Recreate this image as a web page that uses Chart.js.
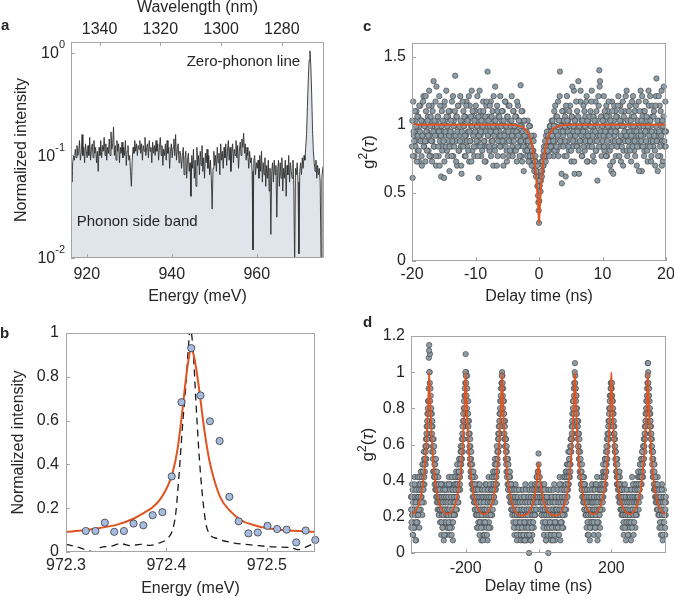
<!DOCTYPE html>
<html>
<head>
<meta charset="utf-8">
<script src="https://cdn.jsdelivr.net/npm/chart.js@4.4.0/dist/chart.umd.min.js"></script>
<style>
html, body { margin: 0; padding: 0; background: #fff; width: 674px; height: 599px; overflow: hidden; }
canvas { position: absolute; left: 0; top: 0; }
</style>
</head>
<body>
<canvas id="panelA" width="700" height="620"></canvas>
<canvas id="panelB" width="700" height="620"></canvas>
<canvas id="panelC" width="700" height="620"></canvas>
<canvas id="panelD" width="700" height="620"></canvas>
<script>
// ---------- panel a : PL spectrum, log scale ----------
var specE0 = 916.3, specStep = 0.2;   // energy grid of the spectrometer (meV)
var specIntensity = [
  0.07,0.055,0.085,0.1,0.09,0.115,0.095,0.125,0.1,0.11,
  0.14,0.09,0.105,0.16,0.1,0.12,0.085,0.13,0.11,0.095,
  0.125,0.1,0.15,0.09,0.115,0.13,0.095,0.14,0.105,0.12,
  0.085,0.11,0.07,0.12,0.1,0.14,0.095,0.125,0.11,0.15,
  0.1,0.13,0.09,0.12,0.105,0.145,0.1,0.17,0.115,0.13,
  0.19,0.1,0.125,0.09,0.14,0.11,0.13,0.085,0.12,0.105,
  0.135,0.095,0.12,0.1,0.14,0.08,0.11,0.125,0.09,0.1,
  0.07,0.05,0.09,0.12,0.105,0.14,0.11,0.13,0.1,0.125,
  0.115,0.14,0.105,0.13,0.09,0.125,0.11,0.15,0.1,0.12,
  0.13,0.095,0.14,0.11,0.12,0.085,0.135,0.105,0.125,0.1,
  0.14,0.11,0.13,0.09,0.12,0.15,0.1,0.125,0.08,0.115,
  0.1,0.13,0.09,0.14,0.105,0.12,0.075,0.11,0.13,0.095,
  0.12,0.145,0.1,0.16,0.09,0.115,0.13,0.085,0.11,0.1,
  0.075,0.1,0.12,0.065,0.095,0.11,0.06,0.09,0.105,0.07,
  0.085,0.04,0.1,0.075,0.115,0.06,0.09,0.05,0.12,0.08,
  0.1,0.065,0.11,0.08,0.125,0.07,0.095,0.06,0.105,0.085,
  0.115,0.075,0.1,0.065,0.09,0.06,0.03,0.075,0.11,0.08,
  0.1,0.07,0.12,0.085,0.105,0.065,0.13,0.09,0.11,0.075,
  0.12,0.095,0.13,0.08,0.11,0.14,0.09,0.12,0.07,0.105,
  0.13,0.085,0.115,0.1,0.14,0.095,0.125,0.075,0.11,0.135,
  0.1,0.145,0.12,0.165,0.105,0.13,0.09,0.12,0.1,0.075,
  0.11,0.085,0.095,0.07,0.012,0.09,0.1,0.065,0.085,0.075,
  0.09,0.06,0.1,0.07,0.11,0.055,0.085,0.065,0.095,0.05,
  0.08,0.06,0.09,0.045,0.075,0.017,0.07,0.085,0.055,0.09,
  0.065,0.08,0.025,0.07,0.09,0.05,0.085,0.06,0.095,0.045,
  0.075,0.06,0.09,0.04,0.08,0.065,0.1,0.055,0.085,0.07,
  0.06,0.09,0.05,0.008,0.075,0.065,0.085,0.055,0.011,0.07,
  0.085,0.065,0.095,0.075,0.1,0.09,0.12,0.16,0.3,0.55,
  0.85,1.05,0.75,0.4,0.18,0.11,0.085,0.07,0.09,0.06,
  0.08,0.065,0.075,0.055,0.01,0.06,0.075,0.08
];
var aEnergyTicks = [920, 940, 960];
var aWavelengthTicks = [1340, 1320, 1300, 1280];
var aIntensityTicks = [0.01, 0.1, 1];

// ---------- panel b : zero-phonon line, high resolution ----------
var bEnergy = [972.3197,972.3293,972.3387,972.348,972.3577,972.3673,972.377,972.3863,972.396,972.4053,
  972.415,972.4247,972.434,972.4433,972.453,972.4627,972.472,972.4817,972.491,972.5007,
  972.5103,972.5197,972.5293,972.5387,972.5483];
var bIntensity = [0.096,0.096,0.134,0.092,0.096,0.13,0.122,0.168,0.182,0.345,
  0.684,0.931,0.715,0.597,0.507,0.252,0.14,0.085,0.089,0.119,
  0.105,0.102,0.044,0.098,0.055];
var bFitEnergy = [972.3,972.3177,972.3343,972.351,972.3677,972.3777,972.386,972.3943,972.401,972.406,
  972.411,972.416,972.4193,972.422,972.4243,972.4267,972.4293,972.4327,972.436,972.4393,
  972.4427,972.4477,972.4543,972.4627,972.4743,972.4877,972.501,972.5177,972.5493];
var bFitIntensity = [0.092,0.099,0.11,0.125,0.153,0.179,0.203,0.244,0.298,0.359,
  0.466,0.649,0.786,0.878,0.924,0.908,0.847,0.74,0.618,0.511,
  0.42,0.328,0.244,0.191,0.145,0.122,0.108,0.099,0.092];
var bRefEnergy = [972.3,972.311,972.321,972.3277,972.3343,972.3443,972.3543,972.3643,972.3743,972.3843,
  972.3927,972.401,972.406,972.4093,972.4127,972.416,972.4193,972.422,972.4237,972.425,
  972.427,972.4293,972.4327,972.436,972.4393,972.4427,972.451,972.4677,972.4877,972.5077,
  972.5243,972.531,972.5393,972.5493];
var bRefIntensity = [0.035,0.023,0.008,0,0.02,0.026,0.038,0.029,0.035,0.03,
  0.041,0.061,0.099,0.176,0.359,0.573,0.756,0.939,1.02,1.0,
  0.893,0.695,0.435,0.252,0.13,0.084,0.061,0.041,0.031,0.023,
  0.02,0.011,0.023,0.046];
var bEnergyTicks = [972.3, 972.4, 972.5];
var bIntensityTicks = [0, 0.2, 0.4, 0.6, 0.8, 1];

// ---------- panel c : g2 under CW excitation ----------
var cT0 = -20, cStep = 0.1;   // ns, correlation bins (cG2Half sits half a bin later)
var cG2 = [
  0.84,0.61,1.17,0.92,0.77,1.03,0.88,1.1,0.95,0.81,1.06,0.73,0.99,1.14,0.88,0.77,1.03,0.92,1.21,0.84,
  0.99,0.73,1.1,0.88,0.95,1.06,0.81,1.25,0.92,1.03,0.77,1.14,0.88,0.99,1.32,0.84,0.95,1.17,0.7,1.03,
  0.92,1.06,0.77,1.21,0.88,0.99,0.62,1.1,0.84,0.95,1.14,0.73,1.03,0.92,1.25,0.81,0.99,1.06,0.88,0.66,
  1.1,0.95,0.84,1.17,0.92,0.77,1.03,0.99,1.36,0.88,1.06,0.7,0.95,1.14,0.81,0.92,1.21,0.84,0.64,1.03,
  0.88,1.1,0.99,0.77,1.06,0.92,1.17,0.84,0.95,1.03,0.73,1.14,0.88,0.99,1.25,0.81,1.06,0.92,0.77,1.1,
  0.95,0.84,1.03,1.21,0.88,0.61,0.99,1.1,0.92,0.77,1.06,0.84,1.17,0.95,0.88,1.03,0.73,1.14,0.99,1.39,
  0.92,1.06,0.81,0.99,1.17,0.88,0.95,1.1,0.7,1.03,0.84,1.28,0.92,0.99,1.14,0.77,1.06,0.88,0.95,1.21,
  0.84,1.03,0.92,1.1,0.7,0.99,0.88,1.17,0.95,0.81,1.06,0.92,1.14,0.77,1.03,0.88,0.99,1.21,0.84,0.95,
  1.1,0.81,0.99,0.92,1.06,0.73,0.95,1.14,0.84,1.03,0.88,1.29,0.77,0.99,1.1,0.92,0.66,1.03,0.84,0.95,
  0.88,0.77,1.03,0.81,0.92,0.73,0.99,0.84,0.77,0.88,0.7,0.81,0.92,0.77,0.66,0.73,0.62,0.7,0.55,0.43,
  0.28,0.55,0.64,0.59,0.73,0.66,0.77,0.7,0.84,0.73,0.81,0.92,0.77,0.88,0.84,0.95,0.81,0.99,0.88,0.92,
  1.03,0.84,0.95,0.77,1.1,0.88,0.99,1.06,0.81,0.92,1.17,0.95,0.84,1.39,1.03,0.88,0.57,0.99,0.92,1.1,
  0.77,1.06,0.62,0.95,1.21,0.88,1.03,0.81,0.99,1.14,0.92,0.73,1.06,0.84,0.95,1.25,0.64,1.03,0.88,0.99,
  1.1,0.84,1.32,0.64,0.95,1.17,0.88,1.03,0.77,0.99,1.14,0.92,0.81,1.06,0.95,1.21,0.88,0.73,1.03,0.99,
  0.92,1.1,0.84,1.25,0.95,0.77,1.06,0.99,0.88,1.17,0.81,1.03,0.59,0.92,1.14,1.4,1.32,0.95,0.84,1.06,
  0.88,0.99,1.21,0.81,1.03,0.92,1.14,0.77,0.95,1.1,0.84,1.06,0.7,0.99,0.66,1.17,0.88,0.64,1.03,0.92,
  1.1,0.77,0.95,1.06,0.84,1.21,0.99,0.88,1.14,0.73,1.03,0.92,1.17,0.81,0.99,1.1,0.88,0.95,1.25,0.77,
  1.03,0.92,0.84,1.14,0.99,0.73,1.06,0.88,1.21,0.95,0.81,1.1,0.92,0.99,0.7,1.03,0.88,1.17,0.84,0.95,
  1.25,0.88,0.66,1.06,0.92,1.1,0.81,0.99,1.17,0.84,1.03,0.73,0.95,1.14,0.88,1.21,0.99,0.77,1.06,0.92,
  0.84,1.1,0.95,0.7,1.21,1.34,0.88,0.66,1.03,0.92,1.14,0.77,0.99,1.25,0.88,0.73,1.06,0.95,0.84,1.17,
  0.95
];
var cG2Half = [
  1.03,0.77,0.95,0.88,1.1,0.84,0.99,0.73,1.06,0.92,0.81,1.14,0.95,0.88,1.03,0.7,0.92,1.17,0.84,0.99,
  0.88,1.21,0.95,0.81,1.03,0.92,1.14,0.77,0.99,1.06,0.88,0.73,1.1,0.95,0.84,1.03,0.92,0.77,1.28,0.99,
  1.06,0.84,0.95,0.7,1.14,0.92,0.99,0.81,1.03,0.88,0.61,1.17,0.95,0.84,1.06,0.99,0.77,1.1,0.92,0.84,
  0.95,1.03,0.77,0.88,1.21,0.99,0.84,1.1,0.92,0.73,1.06,0.95,1.14,0.81,0.99,0.88,1.03,0.7,0.95,1.17,
  0.84,0.99,1.06,0.92,0.77,1.14,0.88,1.03,0.81,1.21,0.95,0.88,1.06,0.73,0.99,1.1,0.92,0.84,1.03,0.95,
  1.14,0.88,0.99,0.77,1.06,0.92,1.25,0.84,0.95,1.03,0.81,0.99,1.1,0.88,0.73,1.06,0.95,1.17,0.84,0.92,
  1.03,0.84,1.14,0.95,0.77,1.06,0.88,0.99,1.21,0.92,0.81,1.03,0.95,0.7,1.1,0.88,0.99,1.06,0.84,0.92,
  0.99,1.1,0.88,0.77,1.03,0.92,1.17,0.84,0.99,0.73,1.06,0.95,0.88,1.14,0.81,0.99,1.03,0.92,0.77,1.1,
  0.88,0.99,1.06,0.81,0.95,1.17,0.84,0.92,1.03,0.77,0.99,0.88,1.1,0.73,0.95,0.84,1.03,0.92,0.81,0.88,
  0.95,0.81,0.88,0.73,0.99,0.77,0.84,0.92,0.7,0.81,0.77,0.88,0.66,0.73,0.77,0.62,0.66,0.55,0.48,0.37,
  0.44,0.59,0.51,0.66,0.62,0.73,0.7,0.81,0.77,0.88,0.73,0.84,0.95,0.81,0.92,0.88,0.77,0.99,0.84,0.95,
  0.92,1.03,0.88,0.99,0.81,1.14,0.95,0.84,1.06,0.92,0.77,1.03,1.21,0.88,0.99,0.64,1.1,0.95,0.84,1.03,
  0.99,0.88,1.14,0.77,1.03,0.95,0.84,1.1,0.92,0.99,0.81,1.06,1.28,0.88,0.99,0.73,1.03,0.92,1.17,0.84,
  0.95,1.06,0.81,0.99,0.88,1.25,0.92,0.77,1.03,0.95,0.84,1.1,0.99,0.88,1.17,0.73,1.03,0.92,0.84,1.06,
  0.88,0.99,1.17,0.84,0.92,1.06,0.73,1.03,0.95,0.81,1.1,0.88,0.99,1.21,0.84,1.28,0.92,1.06,0.77,0.99,
  1.03,0.92,0.84,1.1,0.95,0.77,1.06,0.88,0.99,1.17,0.92,0.81,1.03,0.95,0.84,1.1,0.73,0.99,1.14,0.88,
  0.95,1.06,0.84,0.99,1.14,0.88,0.77,1.03,0.92,1.1,0.84,0.99,0.7,1.06,0.95,0.88,1.21,0.92,0.81,1.03,
  0.88,1.1,0.95,0.81,1.03,0.92,1.17,0.84,0.99,1.06,0.88,0.77,1.14,0.95,0.84,1.03,0.92,0.66,1.1,0.99,
  0.92,1.03,1.21,0.84,0.99,0.77,1.1,0.95,0.88,1.06,0.81,0.99,1.25,0.92,0.84,1.03,0.73,0.95,1.14,0.88,
  1.06,0.92,0.81,1.14,0.99,0.88,1.03,0.77,1.21,0.95,0.84,1.1,0.92,0.7,1.03,0.99,1.28,0.88,0.95,0.84
];
var cFitT = [-20,-5,-3,-2.5,-2,-1.6,-1.3,-1,-0.8,-0.6,-0.45,-0.3,-0.2,-0.1,-0.05,0,
  0.05,0.1,0.2,0.3,0.45,0.6,0.8,1,1.3,1.6,2,2.5,3,5,20];
var cFitG2 = [1,1,0.99,0.98,0.959,0.927,0.888,0.827,0.77,0.694,0.621,0.531,0.459,0.376,0.33,0.28,
  0.33,0.376,0.459,0.531,0.621,0.694,0.77,0.827,0.888,0.927,0.959,0.98,0.99,1,1];
var cTimeTicks = [-20, -10, 0, 10, 20];
var cG2Ticks = [0, 0.5, 1, 1.5];

// ---------- panel d : g2 under pulsed excitation ----------
var dT0 = -350, dStep = 1;   // ns (dG2Half sits half a bin later)
var dG2 = [
  // -350 .. -251  (peak at -300)
  .31,.14,.24,.38,.21,.1,.28,.35,.17,.24,.42,.14,.28,.21,.07,.31,.24,.35,.17,.28,
  .21,.38,.31,.14,.42,.28,.35,.24,.45,.31,.38,.21,.49,.35,.42,.28,.52,.38,.45,.56,
  .49,.63,.52,.7,.59,.77,.66,.84,.84,1.08,1.15,1.0,1.1,.8,.87,.73,.63,.77,.56,.7,
  .59,.45,.63,.42,.52,.38,.49,.35,.45,.31,.42,.28,.38,.24,.35,.42,.21,.31,.28,.38,
  .17,.31,.24,.1,.35,.21,.28,.14,.38,.24,.07,.31,.17,.28,.21,.35,.1,.24,.31,.14,
  // -250 .. -151  (peak at -200)
  .24,.35,.14,.28,.42,.21,.1,.31,.17,.38,.24,.28,.14,.35,.21,.07,.31,.24,.42,.28,
  .35,.21,.38,.28,.45,.31,.24,.42,.35,.49,.28,.45,.38,.52,.42,.35,.56,.45,.49,.59,
  .52,.66,.56,.73,.63,.8,.7,.87,.77,.94,1.1,1.0,.91,.84,.98,.77,.7,.84,.63,.73,
  .56,.66,.49,.59,.42,.52,.45,.38,.49,.35,.42,.31,.38,.28,.35,.24,.42,.31,.21,.35,
  .28,.14,.31,.24,.38,.17,.28,.21,.1,.31,.24,.35,.17,.07,.28,.21,.31,.14,.24,.1,
  // -150 .. -51  (peak at -100)
  .21,.31,.1,.24,.38,.17,.28,.14,.35,.21,.07,.28,.24,.42,.17,.31,.21,.35,.14,.28,
  .24,.38,.31,.21,.42,.28,.35,.45,.31,.38,.49,.28,.42,.35,.52,.45,.38,.56,.49,.63,
  .56,.7,.59,.77,.66,.84,.73,.91,.8,.94,1.0,.98,.87,.91,.77,.84,.7,.63,.73,.59,
  .52,.63,.45,.56,.49,.38,.52,.42,.35,.45,.31,.38,.42,.28,.35,.24,.31,.38,.21,.28,
  .35,.17,.24,.31,.1,.28,.21,.38,.14,.24,.31,.07,.21,.28,.17,.35,.1,.24,.14,.21,
  // -50 .. 49  (suppressed peak at 0)
  .14,.28,.07,.21,.35,.1,.24,.17,.31,.07,.21,.14,.28,.1,.38,.17,.24,.07,.31,.21,
  .1,.28,.17,.35,0,.24,.14,.31,.21,.07,.38,.17,.28,.1,.24,.35,.21,.14,.31,.28,
  .35,.21,.38,.28,.24,.42,.31,.35,.45,.38,.55,.42,.31,.38,.28,.35,.24,.31,.38,.21,
  .28,.35,.17,.31,.24,.1,.38,.21,.28,.14,.31,.07,.24,.35,.17,.28,.21,0,.14,.31,
  .21,.1,.28,.17,.35,.07,.24,.14,.31,.21,.1,.28,.17,.38,.24,.07,.31,.14,.21,.28,
  // 50 .. 149  (peak at 100)
  .17,.31,.24,.1,.35,.21,.28,.14,.42,.24,.07,.31,.21,.38,.17,.28,.24,.35,.14,.31,
  .28,.42,.21,.35,.31,.45,.24,.38,.49,.31,.42,.35,.56,.38,.45,.52,.42,.59,.49,.63,
  .56,.7,.63,.77,.66,.84,.73,.91,.8,.94,1.05,.98,.91,.84,.87,.77,.8,.7,.63,.73,
  .59,.66,.52,.45,.56,.42,.49,.38,.45,.35,.42,.31,.38,.28,.35,.42,.24,.31,.38,.21,
  .28,.35,.14,.24,.31,.1,.28,.21,.35,.17,.24,.07,.31,.21,.28,.14,.24,.38,.17,.28,
  // 150 .. 249  (peak at 200)
  .21,.35,.1,.28,.17,.31,.24,.38,.14,.28,.21,.42,.07,.24,.31,.17,.35,.21,.28,.14,
  .31,.24,.38,.28,.42,.35,.24,.45,.31,.38,.49,.35,.42,.52,.38,.56,.45,.49,.63,.52,
  .59,.66,.73,.63,.8,.7,.87,.77,.91,.84,.94,.91,.87,.8,.84,.73,.77,.66,.7,.59,
  .63,.52,.56,.45,.49,.38,.52,.42,.35,.45,.31,.38,.28,.42,.35,.24,.31,.38,.21,.28,
  .35,.14,.28,.21,.1,.31,.24,.38,.17,.28,.07,.21,.31,.14,.24,.35,.17,.28,.1,.21,
  // 250 .. 350  (peak at 300)
  .28,.14,.35,.21,.07,.31,.24,.42,.17,.28,.35,.1,.24,.38,.21,.31,.14,.28,.24,.35,
  .21,.38,.28,.42,.31,.24,.45,.35,.38,.49,.31,.42,.52,.38,.45,.56,.49,.42,.59,.52,
  .63,.56,.7,.66,.77,.73,.84,.8,.91,.94,1.05,1.0,.91,.87,.8,.84,.73,.77,.66,.7,
  .59,.63,.49,.56,.42,.52,.45,.35,.49,.38,.31,.42,.28,.38,.35,.24,.31,.42,.28,.21,
  .31,.24,.14,.35,.21,.28,.1,.31,.24,.38,.17,.07,.28,.21,.35,.14,.24,.31,.1,.21,.28
];
var dG2Half = [
  // -349.5 .. -250.5
  .24,.17,.31,.21,.35,.1,.28,.14,.24,.38,.21,.31,.07,.28,.35,.17,.24,.31,.42,.21,
  .31,.24,.35,.42,.28,.38,.31,.45,.35,.28,.42,.49,.38,.45,.35,.56,.42,.49,.52,.59,
  .56,.59,.66,.63,.73,.7,.8,.77,.91,1.12,1.0,.94,.84,.91,.77,.8,.7,.66,.73,.63,
  .52,.56,.45,.59,.49,.42,.45,.35,.52,.38,.35,.45,.31,.35,.28,.38,.31,.24,.35,.28,
  .24,.28,.38,.17,.31,.24,.14,.28,.35,.21,.31,.1,.24,.35,.28,.17,.31,.21,.38,.24,
  // -249.5 .. -150.5
  .28,.21,.31,.17,.38,.24,.14,.35,.28,.21,.31,.1,.42,.24,.35,.17,.28,.21,.31,.38,
  .28,.42,.35,.24,.38,.31,.49,.38,.28,.42,.35,.45,.52,.42,.38,.49,.59,.52,.56,.63,
  .59,.7,.63,.77,.73,.84,.8,.91,.87,1.0,.98,.94,.87,.8,.91,.73,.77,.7,.66,.56,
  .59,.52,.63,.45,.49,.56,.38,.45,.42,.31,.38,.45,.35,.31,.28,.38,.24,.35,.31,.28,
  .21,.31,.24,.35,.14,.28,.21,.31,.38,.17,.24,.28,.14,.31,.21,.35,.24,.07,.31,.17,
  // -149.5 .. -50.5
  .28,.24,.35,.17,.31,.21,.38,.24,.1,.31,.28,.35,.21,.14,.31,.24,.38,.28,.21,.35,
  .31,.28,.42,.35,.24,.45,.38,.31,.42,.35,.52,.45,.38,.49,.42,.59,.45,.52,.56,.66,
  .63,.66,.73,.7,.8,.77,.87,.84,.94,.98,.91,.94,.8,.84,.73,.77,.66,.7,.59,.63,
  .56,.49,.59,.42,.52,.45,.35,.49,.38,.42,.31,.45,.35,.28,.38,.31,.24,.35,.28,.31,
  .24,.28,.14,.35,.21,.31,.24,.17,.28,.35,.21,.1,.31,.24,.28,.14,.35,.21,.28,.17,
  // -49.5 .. 49.5
  .21,.1,.31,.24,.14,.28,.21,.35,.1,.24,.31,.17,.07,.28,.21,.35,.14,.24,.1,.28,
  .21,.14,.31,.24,.1,.35,.28,.17,.07,.31,.24,.14,.35,.21,.28,.17,.31,.24,.35,.21,
  .28,.38,.31,.24,.35,.42,.28,.38,.31,.45,.49,.38,.35,.42,.31,.24,.35,.28,.21,.31,
  .35,.24,.28,.14,.31,.21,.35,.24,.17,.28,.07,.21,.31,.14,.24,.1,.28,.35,.21,.14,
  .28,.17,.24,.35,.1,.21,.31,.14,.28,.07,.24,.35,.21,.1,.28,.17,.31,.24,.14,.21,
  // 50.5 .. 149.5
  .24,.21,.35,.14,.28,.31,.1,.24,.38,.21,.28,.17,.35,.24,.31,.14,.21,.28,.42,.24,
  .35,.31,.24,.42,.38,.28,.45,.35,.42,.31,.49,.38,.45,.42,.52,.49,.56,.45,.63,.59,
  .63,.66,.73,.7,.8,.84,.77,.87,.94,1.0,.94,.91,.8,.87,.77,.73,.66,.7,.59,.66,
  .56,.52,.63,.49,.42,.52,.38,.45,.35,.49,.31,.38,.42,.28,.31,.38,.24,.35,.28,.31,
  .21,.31,.24,.35,.17,.28,.21,.1,.31,.24,.35,.14,.28,.21,.31,.17,.28,.35,.21,.24,
  // 150.5 .. 249.5
  .28,.17,.31,.24,.35,.14,.28,.21,.38,.24,.31,.17,.28,.35,.1,.24,.31,.21,.35,.24,
  .38,.28,.35,.42,.31,.38,.28,.49,.35,.42,.38,.45,.52,.42,.49,.45,.59,.52,.56,.66,
  .63,.7,.66,.77,.73,.84,.8,.87,.94,.91,.87,.94,.84,.77,.8,.7,.73,.63,.66,.56,
  .59,.56,.49,.52,.42,.45,.49,.38,.42,.31,.38,.35,.45,.31,.28,.35,.24,.31,.35,.24,
  .28,.21,.31,.17,.24,.35,.14,.28,.21,.31,.24,.17,.35,.28,.21,.1,.24,.31,.17,.28,
  // 250.5 .. 349.5
  .21,.31,.24,.17,.35,.28,.14,.31,.24,.38,.21,.28,.17,.31,.35,.24,.28,.21,.38,.31,
  .28,.35,.31,.45,.38,.28,.42,.35,.49,.42,.38,.45,.52,.42,.56,.49,.45,.59,.52,.63,
  .59,.66,.63,.73,.7,.8,.77,.87,.84,.98,1.05,.94,.87,.91,.77,.8,.7,.73,.63,.66,
  .56,.59,.52,.45,.56,.42,.38,.49,.45,.35,.42,.38,.31,.35,.28,.31,.38,.24,.31,.28,
  .35,.21,.28,.17,.31,.24,.28,.14,.35,.21,.1,.28,.24,.31,.17,.21,.28,.14,.24,.31
];
var dFitT = [
  -350,-340,-330,-323,-317,-312,-308,-305,-302,-300,-298,-295,-292,-288,-283,-277,-270,-260,
  -250,-240,-230,-223,-217,-212,-208,-205,-202,-200,-198,-195,-192,-188,-183,-177,-170,-160,
  -150,-140,-130,-123,-117,-112,-108,-105,-102,-100,-98,-95,-92,-88,-83,-77,-70,-60,
  -50,-40,-30,-23,-17,-12,-8,-5,-2,0,2,5,8,12,17,23,30,40,
  50,60,70,77,83,88,92,95,98,100,102,105,108,112,117,123,130,140,
  150,160,170,177,183,188,192,195,198,200,202,205,208,212,217,223,230,240,
  250,260,270,277,283,288,292,295,298,300,302,305,308,312,317,323,330,340,
  350
];
var dFitG2 = [
  .215,.225,.26,.31,.385,.485,.6,.72,.87,1,.87,.72,.6,.485,.385,.31,.26,.225,
  .215,.225,.26,.31,.385,.485,.6,.72,.87,1,.87,.72,.6,.485,.385,.31,.26,.225,
  .215,.225,.26,.31,.385,.485,.6,.72,.87,1,.87,.72,.6,.485,.385,.31,.26,.22,
  .207,.21,.217,.236,.265,.304,.349,.394,.452,.5,.452,.394,.349,.304,.265,.236,.217,.21,
  .207,.22,.26,.31,.385,.485,.6,.72,.87,1,.87,.72,.6,.485,.385,.31,.26,.225,
  .215,.225,.26,.31,.385,.485,.6,.72,.87,1,.87,.72,.6,.485,.385,.31,.26,.225,
  .215,.225,.26,.31,.385,.485,.6,.72,.87,1,.87,.72,.6,.485,.385,.31,.26,.225,
  .215
];
var dTimeTicks = [-200, 0, 200];
var dG2Ticks = [0, 0.2, 0.4, 0.6, 0.8, 1, 1.2];

// ---------- look ----------
var FONT = "'Liberation Sans', Arial, Helvetica, sans-serif";
var TEXT = '#262626';
var FRAME = '#a4a4a4';
var ORANGE = '#df5420';
var DOT_FILL = '#8d9da7';
var DOT_EDGE = '#3c3c3c';
var TICK_LEN = 4;

Chart.defaults.font.family = FONT;
Chart.defaults.font.size = 16;
Chart.defaults.color = TEXT;

function pairs(xs, ys) {
  return ys.map(function (y, i) { return { x: xs[i], y: y }; });
}
function grid(start, step, ys) {
  return ys.map(function (y, i) { return { x: +(start + i * step).toFixed(4), y: y }; });
}
function plainNumber(v) { return String(parseFloat(Number(v).toFixed(4))); }

// one axis with fixed ticks and a fixed thickness, so the plot boxes land where they should
function axis(o) {
  return {
    type: o.type || 'linear',
    axis: o.axis,
    position: o.position,
    min: o.min, max: o.max,
    reverse: !!o.reverse,
    grid: { display: false, drawTicks: false },
    border: { display: false },
    afterBuildTicks: function (s) { s.ticks = o.ticks.map(function (v) { return { value: v }; }); },
    afterFit: function (s) { if (s.isHorizontal()) { s.height = o.size; } else { s.width = o.size; } },
    ticks: { display: o.labels !== false, padding: o.labelPad, callback: plainNumber,
             maxRotation: 0, minRotation: 0, autoSkip: false },
    title: { display: !!o.title, text: o.title, padding: o.titlePad || 0 }
  };
}

function options(padding, scales, decor) {
  return {
    responsive: false, animation: false, events: [],
    layout: { padding: padding },
    scales: scales,
    plugins: { legend: { display: false }, tooltip: { enabled: false }, panelDecor: decor }
  };
}

// frame, inward ticks, panel letters and the bits of text Chart.js cannot write itself
var panelDecor = {
  id: 'panelDecor',
  afterDatasetsDraw: function (chart) {
    var ctx = chart.ctx, ca = chart.chartArea;
    ctx.save();
    ctx.strokeStyle = FRAME;
    ctx.lineWidth = 1;
    ctx.strokeRect(Math.round(ca.left) + 0.5, Math.round(ca.top) + 0.5,
                   Math.round(ca.right - ca.left) - 1, Math.round(ca.bottom - ca.top) - 1);
    Object.keys(chart.scales).forEach(function (id) {
      var s = chart.scales[id];
      s.ticks.forEach(function (t) {
        var p = Math.round(s.getPixelForValue(t.value)) + 0.5;
        ctx.beginPath();
        if (s.position === 'bottom') { ctx.moveTo(p, ca.bottom); ctx.lineTo(p, ca.bottom - TICK_LEN); }
        else if (s.position === 'top') { ctx.moveTo(p, ca.top); ctx.lineTo(p, ca.top + TICK_LEN); }
        else { ctx.moveTo(ca.left, p); ctx.lineTo(ca.left + TICK_LEN, p); }
        ctx.stroke();
      });
    });
    ctx.restore();
  },
  afterDraw: function (chart, args, o) {
    var ctx = chart.ctx, ca = chart.chartArea;
    ctx.save();
    ctx.fillStyle = TEXT;
    ctx.textAlign = 'left';
    ctx.textBaseline = 'alphabetic';
    ctx.font = 'bold 15px ' + FONT;
    ctx.fillText(o.letter, o.letterX, o.letterY);

    (o.notes || []).forEach(function (n) {
      ctx.font = '15px ' + FONT;
      ctx.fillText(n.text, chart.scales.x.getPixelForValue(n.x), chart.scales.y.getPixelForValue(n.y));
    });

    if (o.powerLabels) {
      var ys = chart.scales.y;
      ys.ticks.forEach(function (t) {
        var py = ys.getPixelForValue(t.value);
        var exp = String(Math.round(Math.log10(t.value)));
        var right = ca.left - 6;
        ctx.textBaseline = 'middle';
        ctx.textAlign = 'right';
        ctx.font = '11px ' + FONT;
        var ew = ctx.measureText(exp).width;
        ctx.fillText(exp, right, py - 8);
        ctx.font = '16px ' + FONT;
        ctx.fillText('10', right - ew, py + 1);
      });
    }

    if (o.g2Title) {
      ctx.translate(ca.left - 43.5, (ca.top + ca.bottom) / 2);
      ctx.rotate(-Math.PI / 2);
      var parts = [['g', '17px ' + FONT, 0], ['2', '12px ' + FONT, -7], ['(', '17px ' + FONT, 0],
                   ['\u03c4', 'italic 17px ' + FONT, 0], [')', '17px ' + FONT, 0]];
      var total = 0;
      parts.forEach(function (p) { ctx.font = p[1]; p.push(ctx.measureText(p[0]).width); total += p[3]; });
      var x = -total / 2;
      ctx.textAlign = 'left';
      ctx.textBaseline = 'alphabetic';
      parts.forEach(function (p) { ctx.font = p[1]; ctx.fillText(p[0], x, 5 + p[2]); x += p[3]; });
    }
    ctx.restore();
  }
};

// ---------- a ----------
new Chart(document.getElementById('panelA'), {
  type: 'scatter',
  data: { datasets: [{
    data: grid(specE0, specStep, specIntensity),
    showLine: true, pointRadius: 0, tension: 0,
    borderColor: '#2f2f2f', borderWidth: 0.9,
    fill: 'start', backgroundColor: '#dfe5ea'
  }] },
  options: options({ left: 0, top: 0, right: 376, bottom: 312 }, {
    x: axis({ position: 'bottom', min: 916.3, max: 975.8, ticks: aEnergyTicks, size: 50, labelPad: 7.4,
              title: 'Energy (meV)', titlePad: { top: 0, bottom: 1.4 } }),
    x2: axis({ axis: 'x', position: 'top', reverse: true, min: 1266.1, max: 1349.4, ticks: aWavelengthTicks,
               size: 42, labelPad: 2.4, title: 'Wavelength (nm)', titlePad: { top: -2.1, bottom: 0 } }),
    y: axis({ type: 'logarithmic', position: 'left', min: 0.01, max: 1.28, ticks: aIntensityTicks, size: 71,
              labels: false, title: 'Normalized intensity', titlePad: { top: 12.4, bottom: 0 } })
  }, {
    letter: 'a', letterX: 1, letterY: 29.5, powerLabels: true,
    notes: [{ text: 'Zero-phonon line', x: 943.5, y: 0.752 },
            { text: 'Phonon side band', x: 917.65, y: 0.0207 }]
  }),
  plugins: [panelDecor]
});

// ---------- b ----------
new Chart(document.getElementById('panelB'), {
  type: 'scatter',
  data: { datasets: [
    { data: pairs(bEnergy, bIntensity), order: 0, clip: false,
      pointRadius: 3.6, pointBorderWidth: 0.8, pointBackgroundColor: '#a5bbe0', pointBorderColor: '#3a3a3a' },
    { data: pairs(bFitEnergy, bFitIntensity), order: 1, showLine: true, pointRadius: 0,
      cubicInterpolationMode: 'monotone', borderColor: ORANGE, borderWidth: 2 },
    { data: pairs(bRefEnergy, bRefIntensity), order: 2, showLine: true, pointRadius: 0,
      cubicInterpolationMode: 'monotone', borderColor: '#1a1a1a', borderWidth: 1.3, borderDash: [7, 5] }
  ] },
  options: options({ left: 0, top: 333, right: 385, bottom: 21 }, {
    x: axis({ position: 'bottom', min: 972.3, max: 972.548, ticks: bEnergyTicks, size: 47, labelPad: 4.4,
              title: 'Energy (meV)', titlePad: { top: 0, bottom: 0.4 } }),
    y: axis({ position: 'left', min: 0, max: 1, ticks: bIntensityTicks, size: 66, labelPad: 7,
              title: 'Normalized intensity', titlePad: { top: 9.4, bottom: 0 } })
  }, { letter: 'b', letterX: 0, letterY: 338 }),
  plugins: [panelDecor]
});

// ---------- c ----------
new Chart(document.getElementById('panelC'), {
  type: 'scatter',
  data: { datasets: [
    { data: pairs(cFitT, cFitG2), order: 0, showLine: true, pointRadius: 0,
      cubicInterpolationMode: 'monotone', borderColor: ORANGE, borderWidth: 2 },
    { data: grid(cT0, cStep, cG2).concat(grid(cT0 + cStep / 2, cStep, cG2Half)), order: 1, clip: false,
      pointRadius: 2.7, pointBorderWidth: 0.6, pointBackgroundColor: DOT_FILL, pointBorderColor: DOT_EDGE }
  ] },
  options: options({ left: 350, top: 43, right: 34, bottom: 309 }, {
    x: axis({ position: 'bottom', min: -20, max: 20, ticks: cTimeTicks, size: 50, labelPad: 4.4,
              title: 'Delay time (ns)', titlePad: { top: 0, bottom: 4.4 } }),
    y: axis({ position: 'left', min: 0, max: 1.6, ticks: cG2Ticks, size: 62, labelPad: 6 })
  }, { letter: 'c', letterX: 363, letterY: 31, g2Title: true }),
  plugins: [panelDecor]
});

// ---------- d ----------
new Chart(document.getElementById('panelD'), {
  type: 'scatter',
  data: { datasets: [
    { data: pairs(dFitT, dFitG2), order: 0, showLine: true, pointRadius: 0,
      cubicInterpolationMode: 'monotone', borderColor: ORANGE, borderWidth: 1.8 },
    { data: grid(dT0, dStep, dG2).concat(grid(dT0 + dStep / 2, dStep, dG2Half)), order: 1, clip: false,
      pointRadius: 2.7, pointBorderWidth: 0.6, pointBackgroundColor: DOT_FILL, pointBorderColor: DOT_EDGE }
  ] },
  options: options({ left: 350, top: 336, right: 34, bottom: 20 }, {
    x: axis({ position: 'bottom', min: -350, max: 350, ticks: dTimeTicks, size: 47, labelPad: 6.4,
              title: 'Delay time (ns)', titlePad: { top: 0, bottom: 3.4 } }),
    y: axis({ position: 'left', min: 0, max: 1.2, ticks: dG2Ticks, size: 61, labelPad: 6 })
  }, { letter: 'd', letterX: 363, letterY: 327, g2Title: true }),
  plugins: [panelDecor]
});
</script>
</body>
</html>
